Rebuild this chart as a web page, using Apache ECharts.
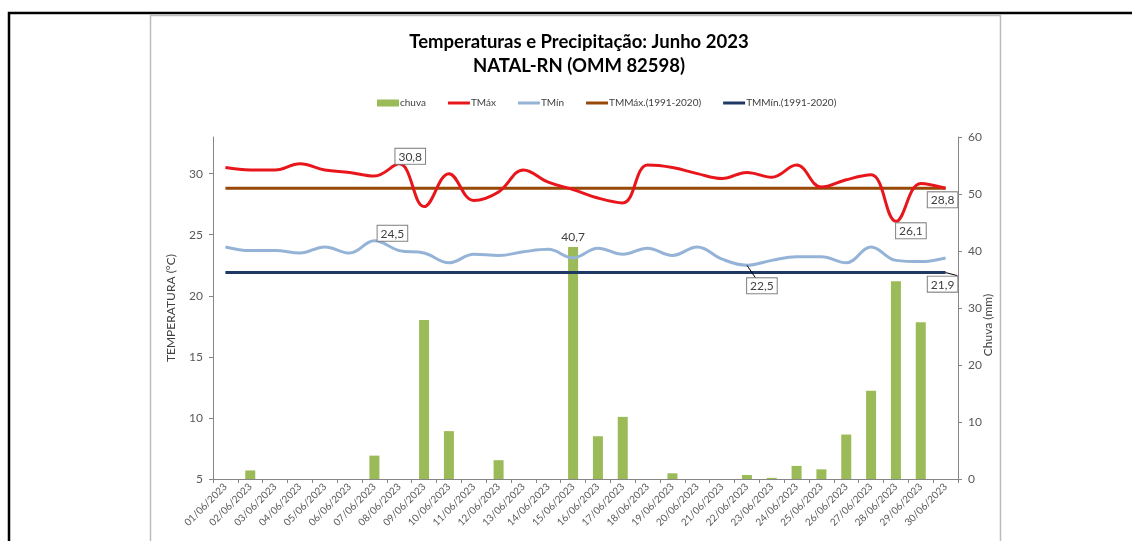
<!DOCTYPE html>
<html>
<head>
<meta charset="utf-8">
<script src="https://cdn.jsdelivr.net/npm/echarts@6/dist/echarts.min.js"></script>
<style>
html,body{margin:0;padding:0;background:#fff;}
#chart{width:1132px;height:541px;}
</style>
</head>
<body>
<div id="chart"></div>
<script>
const categories = ['01/06/2023','02/06/2023','03/06/2023','04/06/2023','05/06/2023','06/06/2023','07/06/2023','08/06/2023','09/06/2023','10/06/2023','11/06/2023','12/06/2023','13/06/2023','14/06/2023','15/06/2023','16/06/2023','17/06/2023','18/06/2023','19/06/2023','20/06/2023','21/06/2023','22/06/2023','23/06/2023','24/06/2023','25/06/2023','26/06/2023','27/06/2023','28/06/2023','29/06/2023','30/06/2023'];
const chuva = [0,1.5,0,0,0,0,4.1,0,27.9,8.4,0,3.3,0,0,40.7,7.5,10.9,0,1.0,0,0,0.7,0.2,2.3,1.7,7.8,15.5,34.7,27.5,0];
const tmax = [30.5,30.3,30.3,30.8,30.3,30.1,29.8,30.8,27.3,30.0,27.8,28.5,30.3,29.3,28.7,28.0,27.6,30.7,30.5,30.0,29.6,30.1,29.7,30.7,28.9,29.5,29.9,26.1,29.2,28.8];
const tmin = [24.0,23.7,23.7,23.5,24.0,23.5,24.5,23.7,23.5,22.7,23.4,23.3,23.6,23.8,23.1,23.9,23.4,23.9,23.3,24.0,23.0,22.5,22.9,23.2,23.2,22.7,24.0,22.9,22.8,23.1];
const tmmax = [28.8,28.8,28.8,28.8,28.8,28.8,28.8,28.8,28.8,28.8,28.8,28.8,28.8,28.8,28.8,28.8,28.8,28.8,28.8,28.8,28.8,28.8,28.8,28.8,28.8,28.8,28.8,28.8,28.8,28.8];
const tmmin = [21.9,21.9,21.9,21.9,21.9,21.9,21.9,21.9,21.9,21.9,21.9,21.9,21.9,21.9,21.9,21.9,21.9,21.9,21.9,21.9,21.9,21.9,21.9,21.9,21.9,21.9,21.9,21.9,21.9,21.9];
const tempTicks = [5,10,15,20,25,30];
const chuvaTicks = [0,10,20,30,40,50,60];

const FONT = 'Lato, "Liberation Sans", sans-serif';
const fmt = v => (typeof v === 'object' ? v.value : v).toFixed(1).replace('.', ',');
const boxLabel = {
  show: true, color: '#404040', fontSize: 12, fontFamily: FONT,
  backgroundColor: '#fff', borderColor: '#7f7f7f', borderWidth: 1,
  padding: [2, 3, 1, 3], formatter: p => fmt(p.value)
};
function labeled(arr, marks) {
  return arr.map((v, i) => {
    if (marks[i]) {
      return { value: v, symbol: 'circle', symbolSize: 0.1,
        label: Object.assign({}, boxLabel, marks[i].label),
        labelLine: marks[i].line ? { show: true, lineStyle: { color: '#000', width: 1 } } : undefined };
    }
    return v;
  });
}
const lineIcon = 'path://M0,0H22V3H0Z';

const chart = echarts.init(document.getElementById('chart'), null, { renderer: 'canvas' });
chart.setOption({
  animation: false,
  backgroundColor: '#fff',
  textStyle: { fontFamily: FONT },
  graphic: [
    { type: 'polyline', shape: { points: [[9, 541], [9, 13], [1132, 13]] }, style: { stroke: '#000', lineWidth: 2.5, fill: null } },
    { type: 'rect', shape: { x: 150.5, y: 15.5, width: 850, height: 540 }, style: { stroke: '#bcbcbc', lineWidth: 1.5, fill: null } }
  ],
  title: {
    text: 'Temperaturas e Precipitação: Junho 2023\nNATAL-RN (OMM 82598)',
    left: 574, top: 25, textAlign: 'center',
    textStyle: { fontFamily: FONT, fontWeight: 'bold', fontSize: 18.5, lineHeight: 24, color: '#000' }
  },
  legend: {
    left: 372, top: 93, itemWidth: 22, itemHeight: 7, itemGap: 22,
    textStyle: { fontFamily: FONT, fontSize: 10, color: '#404040', padding: [0, 0, 0, -4] },
    data: [
      { name: 'chuva', icon: 'rect' },
      { name: 'TMáx', icon: lineIcon },
      { name: 'TMín', icon: lineIcon },
      { name: 'TMMáx.(1991-2020)', icon: lineIcon },
      { name: 'TMMín.(1991-2020)', icon: lineIcon }
    ]
  },
  grid: { left: 213, right: 174, top: 137, bottom: 62, containLabel: false },
  xAxis: {
    type: 'category', data: categories, boundaryGap: true,
    axisLine: { lineStyle: { color: '#868686', width: 1 } },
    axisTick: { show: true, length: 4, lineStyle: { color: '#868686' } },
    axisLabel: { rotate: 45, interval: 0, fontSize: 10, color: '#595959', margin: 6, fontFamily: FONT }
  },
  yAxis: [
    {
      type: 'value', min: 5, max: 33, interval: 5, position: 'left',
      name: 'TEMPERATURA (°C)', nameLocation: 'middle', nameGap: 36, nameRotate: 90, nameMoveOverlap: false,
      nameTextStyle: { fontSize: 12, color: '#404040', fontFamily: FONT },
      axisLine: { show: true, lineStyle: { color: '#868686' } },
      axisTick: { show: true, length: 4, customValues: tempTicks, lineStyle: { color: '#868686' } },
      axisLabel: { customValues: tempTicks, fontSize: 12, color: '#595959', margin: 10, fontFamily: FONT },
      splitLine: { show: false }
    },
    {
      type: 'value', min: 0, max: 60, interval: 10, position: 'right',
      name: 'Chuva (mm)', nameLocation: 'middle', nameGap: 24, nameRotate: 90, nameMoveOverlap: false,
      nameTextStyle: { fontSize: 12, color: '#404040', fontFamily: FONT, padding: [0, 34, 0, 0] },
      axisLine: { show: true, lineStyle: { color: '#868686' } },
      axisTick: { show: true, length: 4, customValues: chuvaTicks, lineStyle: { color: '#868686' } },
      axisLabel: { customValues: chuvaTicks, fontSize: 12, color: '#595959', margin: 10, fontFamily: FONT },
      splitLine: { show: false }
    }
  ],
  series: [
    {
      name: 'chuva', type: 'bar', yAxisIndex: 1, barWidth: 10,
      itemStyle: { color: '#9bbb59' },
      data: chuva.map((v, i) => i === 14 ? { value: v, label: { show: true, position: 'top', distance: 4, color: '#404040', fontSize: 12, fontFamily: FONT, formatter: p => fmt(p.value) } } : v),
      z: 1
    },
    {
      name: 'TMáx', type: 'line', yAxisIndex: 0, smooth: 0.4, symbol: 'none', showSymbol: true,
      lineStyle: { color: '#e8161b', width: 3 }, itemStyle: { color: '#e8161b' },
      data: labeled(tmax, {
        7: { label: { position: 'top', distance: 0, offset: [11, 0] } },
        27: { label: { position: 'bottom', distance: 0, offset: [15, 2] } }
      }),
      z: 5
    },
    {
      name: 'TMín', type: 'line', yAxisIndex: 0, smooth: 0.4, symbol: 'none', showSymbol: true,
      lineStyle: { color: '#95b3d7', width: 3 }, itemStyle: { color: '#95b3d7' },
      data: labeled(tmin, {
        6: { label: { position: 'top', distance: 0, offset: [18, 0] } },
        21: { label: { position: 'bottom', distance: 0, offset: [15, 13] }, line: true }
      }),
      z: 4
    },
    {
      name: 'TMMáx.(1991-2020)', type: 'line', yAxisIndex: 0, symbol: 'none', showSymbol: true,
      lineStyle: { color: '#984807', width: 3 }, itemStyle: { color: '#984807' },
      data: labeled(tmmax, {
        29: { label: { position: 'bottom', distance: 0, offset: [-3, 4] } }
      }),
      z: 3
    },
    {
      name: 'TMMín.(1991-2020)', type: 'line', yAxisIndex: 0, symbol: 'none', showSymbol: true,
      lineStyle: { color: '#1f3864', width: 3 }, itemStyle: { color: '#1f3864' },
      data: labeled(tmmin, {
        29: { label: { position: 'bottom', distance: 0, offset: [-3, 4] }, line: true }
      }),
      z: 3
    }
  ]
});
</script>
</body>
</html>
